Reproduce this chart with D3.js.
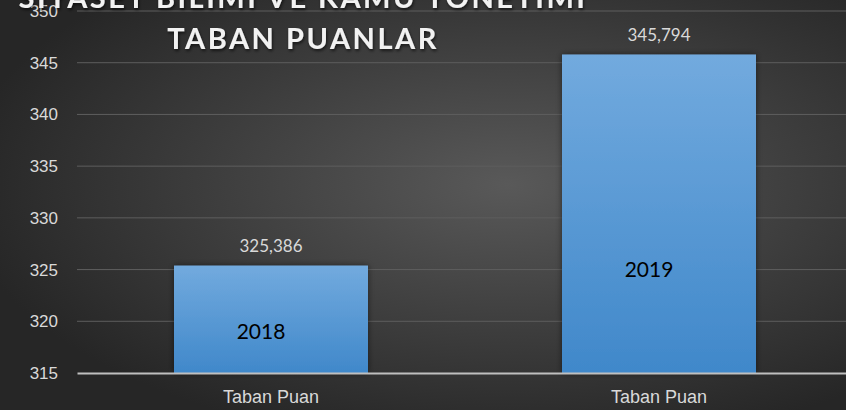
<!DOCTYPE html>
<html>
<head>
<meta charset="utf-8">
<script src="https://cdn.jsdelivr.net/npm/d3@7"></script>
<style>
  body { margin: 0; background: #333; }
  svg { display: block; font-family: Lato, "Open Sans", sans-serif; }
</style>
</head>
<body>
<svg id="chart"></svg>
<script>
// chart data
var categories = ["Taban Puan", "Taban Puan "]
var years = ["2018", "2019"]
var values = [325.386, 345.794]
var valueLabels = ["325,386", "345,794"]
var yTicks = [315, 320, 325, 330, 335, 340, 345, 350]
var titleLines = ["SİYASET BİLİMİ VE KAMU YÖNETİMİ", "TABAN PUANLAR"]

var dimensions = {
    width: 846,
    height: 410,
    margin: { top: 11, bottom: 37, left: 77, right: -7 }
}
dimensions.boundedWidth = dimensions.width - dimensions.margin.left - dimensions.margin.right
dimensions.boundedHeight = dimensions.height - dimensions.margin.top - dimensions.margin.bottom

var svg = d3.select("#chart")
    .attr("width", dimensions.width)
    .attr("height", dimensions.height)

var defs = svg.append("defs")

// dark radial background
var bg = defs.append("radialGradient")
    .attr("id", "bg")
    .attr("cx", "60%").attr("cy", "45%").attr("r", "65%")
bg.append("stop").attr("offset", "0%").attr("stop-color", "#595959")
bg.append("stop").attr("offset", "100%").attr("stop-color", "#262626")

var barGrad = defs.append("linearGradient")
    .attr("id", "barGrad")
    .attr("x1", 0).attr("y1", 0).attr("x2", 0).attr("y2", 1)
barGrad.append("stop").attr("offset", "0%").attr("stop-color", "#72aade")
barGrad.append("stop").attr("offset", "100%").attr("stop-color", "#4088ca")

var shadow = defs.append("filter").attr("id", "shadow")
    .attr("x", "-10%").attr("y", "-10%").attr("width", "120%").attr("height", "120%")
shadow.append("feDropShadow")
    .attr("dx", 0).attr("dy", 0).attr("stdDeviation", 3)
    .attr("flood-color", "#000").attr("flood-opacity", 0.5)

var textShadow = defs.append("filter").attr("id", "textShadow")
textShadow.append("feDropShadow")
    .attr("dx", 1).attr("dy", 2).attr("stdDeviation", 1.5)
    .attr("flood-color", "#000").attr("flood-opacity", 0.6)

svg.append("rect")
    .attr("width", dimensions.width)
    .attr("height", dimensions.height)
    .attr("fill", "url(#bg)")

var bounds = svg.append("g")
    .attr("transform", "translate(" + dimensions.margin.left + "," + dimensions.margin.top + ")")

var xScale = d3.scaleBand()
    .domain(categories)
    .range([0, dimensions.boundedWidth])
    .paddingInner(0.5)
    .paddingOuter(0.25)

var yScale = d3.scaleLinear()
    .domain([315, 350])
    .range([dimensions.boundedHeight, 0])

// gridlines
bounds.append("g")
    .selectAll("line")
    .data(yTicks.slice(1))
    .enter()
    .append("line")
    .attr("x1", 0)
    .attr("x2", dimensions.boundedWidth)
    .attr("y1", d => yScale(d))
    .attr("y2", d => yScale(d))
    .attr("stroke", "#5e5e5e")
    .attr("stroke-width", 1)

// y axis labels
var yAxis = bounds.append("g")
    .call(d3.axisLeft(yScale).tickValues(yTicks).tickSize(0).tickPadding(19))
yAxis.select(".domain").remove()
yAxis.selectAll("text")
    .attr("fill", "#d9d9d9")
    .style("font-size", "17px")

// bars
bounds.append("g")
    .selectAll("rect")
    .data(values)
    .enter()
    .append("rect")
    .attr("x", (d, i) => xScale(categories[i]))
    .attr("y", d => yScale(d))
    .attr("width", xScale.bandwidth())
    .attr("height", d => dimensions.boundedHeight - yScale(d))
    .attr("fill", "url(#barGrad)")
    .attr("filter", "url(#shadow)")

// value labels above bars
bounds.append("g")
    .selectAll("text")
    .data(values)
    .enter()
    .append("text")
    .attr("x", (d, i) => xScale(categories[i]) + xScale.bandwidth() / 2)
    .attr("y", d => yScale(d) - 14)
    .attr("text-anchor", "middle")
    .attr("fill", "#d9d9d9")
    .style("font-size", "17px")
    .text((d, i) => valueLabels[i])

// year labels inside bars
var yearOffsets = [42, 104]
bounds.append("g")
    .selectAll("text")
    .data(years)
    .enter()
    .append("text")
    .attr("x", (d, i) => xScale(categories[i]) + xScale.bandwidth() / 2 - 10)
    .attr("y", (d, i) => dimensions.boundedHeight - yearOffsets[i] + 8)
    .attr("text-anchor", "middle")
    .attr("fill", "#000")
    .style("font-size", "21px")
    .text(d => d)

// x axis
var xAxis = bounds.append("g")
    .attr("transform", "translate(0," + dimensions.boundedHeight + ")")
    .call(d3.axisBottom(xScale).tickSize(0).tickPadding(17).tickFormat(d => d.trim()))
xAxis.select(".domain")
    .attr("stroke", "#bfbfbf")
    .attr("stroke-width", 2)
xAxis.selectAll("text")
    .attr("fill", "#d9d9d9")
    .style("font-size", "18px")

// title
svg.append("g")
    .selectAll("text")
    .data(titleLines)
    .enter()
    .append("text")
    .attr("x", 303)
    .attr("y", (d, i) => 8 + i * 41)
    .attr("text-anchor", "middle")
    .attr("fill", "#f2f2f2")
    .attr("filter", "url(#textShadow)")
    .style("font-size", "29px")
    .style("font-weight", "bold")
    .style("letter-spacing", "2.5px")
    .text(d => d)
</script>
</body>
</html>
